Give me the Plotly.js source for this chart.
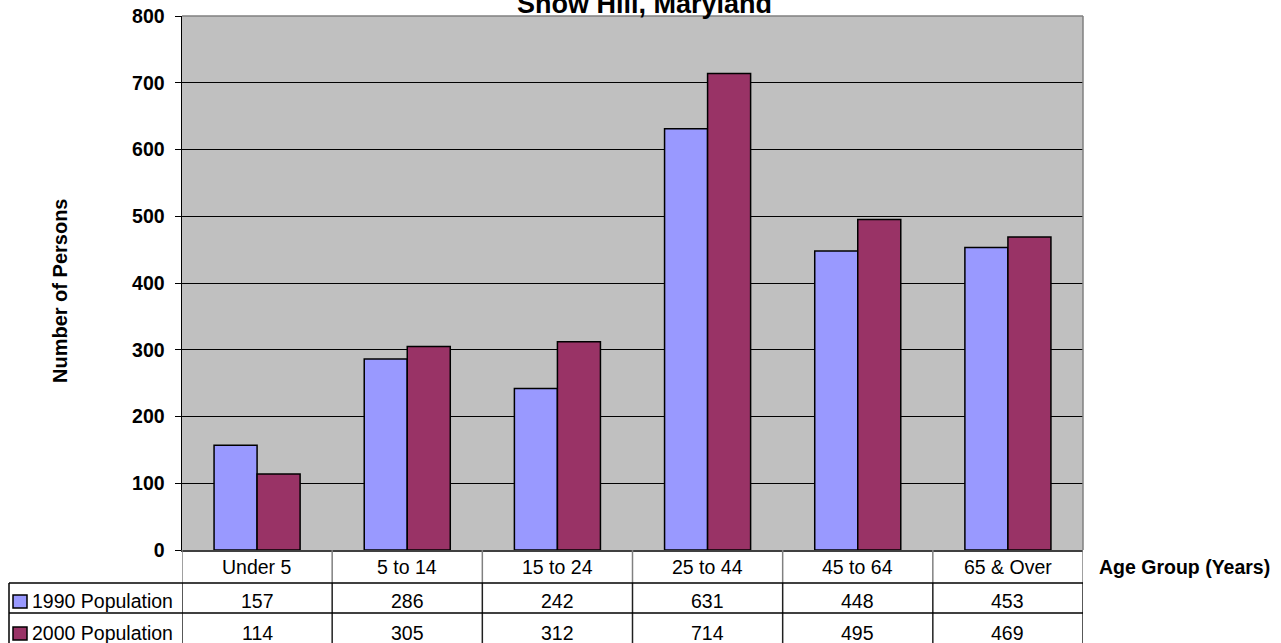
<!DOCTYPE html>
<html>
<head>
<meta charset="utf-8">
<script src="https://cdn.plot.ly/plotly-3.0.1.min.js"></script>
<style>html,body{margin:0;padding:0;background:#fff;}#chart{width:1281px;height:643px;}</style>
</head>
<body>
<div id="chart"></div>
<script>
const categories = ["Under 5", "5 to 14", "15 to 24", "25 to 44", "45 to 64", "65 & Over"];
const seriesNames = ["1990 Population", "2000 Population"];
const pop1990 = [157, 286, 242, 631, 448, 453];
const pop2000 = [114, 305, 312, 714, 495, 469];
const yTicks = [0, 100, 200, 300, 400, 500, 600, 700, 800];
const chartTitle = "Snow Hill, Maryland";
const yTitle = "Number of Persons";
const xTitle = "Age Group (Years)";

const W = 1281, H = 643;
const M = {l: 182, r: 198, t: 16, b: 93};
const PW = W - M.l - M.r, PH = H - M.t - M.b;
const px = x => (x - M.l) / PW;
const py = y => (H - M.b - y) / PH;

const FONT = "Liberation Sans, Arial, sans-serif";
const TS = 19.5;
const colors = ["#9999FF", "#993366"];
const seriesVals = [pop1990, pop2000];

const traces = seriesVals.map((vals, i) => ({
  type: "bar",
  name: seriesNames[i],
  x: categories,
  y: vals,
  marker: {color: colors[i], line: {color: "#000000", width: 1.5}},
  hoverinfo: "x+y+name"
}));

const shapes = [];
const annotations = [];
const n = categories.length;

// plot frame: top & right gray
shapes.push({type: "line", xref: "paper", yref: "paper", x0: 0, x1: 1, y0: 1, y1: 1, line: {color: "#808080", width: 1.5}});
shapes.push({type: "line", xref: "paper", yref: "paper", x0: 1, x1: 1, y0: 0, y1: 1, line: {color: "#808080", width: 1.5}});

// table vertical lines
for (let i = 0; i <= n; i++) {
  shapes.push({type: "line", xref: "x", yref: "paper", x0: i - 0.5, x1: i - 0.5, y0: py(550), y1: py(583), line: {color: "#808080", width: 1.5}});
  shapes.push({type: "line", xref: "x", yref: "paper", x0: i - 0.5, x1: i - 0.5, y0: py(583), y1: py(650), line: {color: "#202020", width: 1.5}});
}
// table left border
shapes.push({type: "line", xref: "paper", yref: "paper", x0: px(9), x1: px(9), y0: py(583), y1: py(650), line: {color: "#000000", width: 1.5}});
// horizontal lines
[583, 613].forEach(yy => {
  shapes.push({type: "line", xref: "paper", yref: "paper", x0: px(9), x1: 1, y0: py(yy), y1: py(yy), line: {color: "#000000", width: 1.5}});
});

// header labels
categories.forEach((c, i) => {
  annotations.push({xref: "x", yref: "paper", x: i, y: py(567), text: c, showarrow: false, xanchor: "center", yanchor: "middle", font: {family: FONT, size: TS, color: "#000"}});
});
// rows
const rowY = [601, 633];
const keyBox = [[595, 608], [627, 640]];
seriesVals.forEach((vals, r) => {
  vals.forEach((v, i) => {
    annotations.push({xref: "x", yref: "paper", x: i, y: py(rowY[r]), text: String(v), showarrow: false, xanchor: "center", yanchor: "middle", font: {family: FONT, size: TS, color: "#000"}});
  });
  annotations.push({xref: "paper", yref: "paper", x: px(30), y: py(rowY[r]), text: seriesNames[r], showarrow: false, xanchor: "left", yanchor: "middle", font: {family: FONT, size: TS, color: "#000"}});
  shapes.push({type: "rect", xref: "paper", yref: "paper", x0: px(13), x1: px(27), y0: py(keyBox[r][0]), y1: py(keyBox[r][1]), fillcolor: colors[r], line: {color: "#000", width: 1.5}});
});

// titles
annotations.push({xref: "paper", yref: "paper", x: px(644), y: py(4), text: "<b>" + chartTitle + "</b>", showarrow: false, xanchor: "center", yanchor: "middle", font: {family: FONT, size: 27, color: "#000"}});
annotations.push({xref: "paper", yref: "paper", x: px(60), y: py(291), text: "<b>" + yTitle + "</b>", textangle: -90, showarrow: false, xanchor: "center", yanchor: "middle", font: {family: FONT, size: 20, color: "#000"}});
annotations.push({xref: "paper", yref: "paper", x: px(1097), y: py(567), text: "<b>" + xTitle + "</b>", showarrow: false, xanchor: "left", yanchor: "middle", font: {family: FONT, size: TS, color: "#000"}});

const layout = {
  width: W, height: H,
  margin: M,
  paper_bgcolor: "#FFFFFF",
  plot_bgcolor: "#C0C0C0",
  barmode: "group",
  bargap: 0.427,
  bargroupgap: 0,
  showlegend: false,
  xaxis: {type: "category", range: [-0.5, n - 0.5], showticklabels: false, ticks: "", showgrid: false, zeroline: false, showline: true, linecolor: "#404040", linewidth: 1.5, fixedrange: true},
  yaxis: {range: [0, 800], tickvals: yTicks, ticktext: yTicks.map(String), ticks: "outside", ticklen: 6, tickcolor: "#000", tickwidth: 1, showline: true, linecolor: "#000", linewidth: 1.5, showgrid: true, gridcolor: "#000", gridwidth: 1, zeroline: false, ticklabelstandoff: 6, tickfont: {family: FONT, size: TS, color: "#000", weight: "bold"}, fixedrange: true},
  shapes: shapes,
  annotations: annotations,
  font: {family: FONT, color: "#000"}
};

Plotly.newPlot("chart", traces, layout, {displayModeBar: false, staticPlot: true});
</script>
</body>
</html>
